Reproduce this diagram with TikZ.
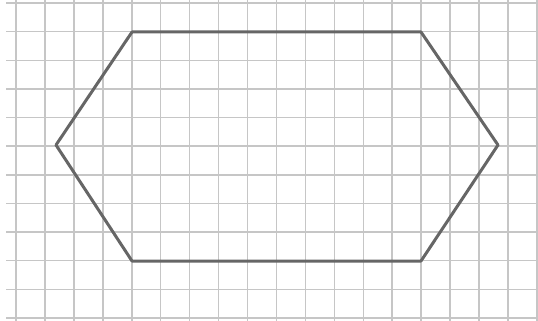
\documentclass[tikz,border=0pt]{standalone}
\begin{document}
\begin{tikzpicture}[x=1pt,y=-1pt]
	\useasboundingbox (0,0) rectangle (538,321);
	\foreach \i in {0,...,18}
		\draw[gray!45,line width=1.5pt] (16+28.94*\i,0)--(16+28.94*\i,321);
	\foreach \j in {0,...,11}
		\draw[gray!45,line width=1.5pt] (6,3+28.63*\j)--(538,3+28.63*\j);
	\coordinate (P1) at (56,145);
	\coordinate (P2) at (132,32);
	\coordinate (P3) at (421,32);
	\coordinate (P4) at (498,145);
	\coordinate (P5) at (421,261);
	\coordinate (P6) at (132,261);
	\draw[black!60,line width=3pt,line join=round] (P1)--(P2)--(P3)--(P4)--(P5)--(P6)--cycle;
\end{tikzpicture}
\end{document}
